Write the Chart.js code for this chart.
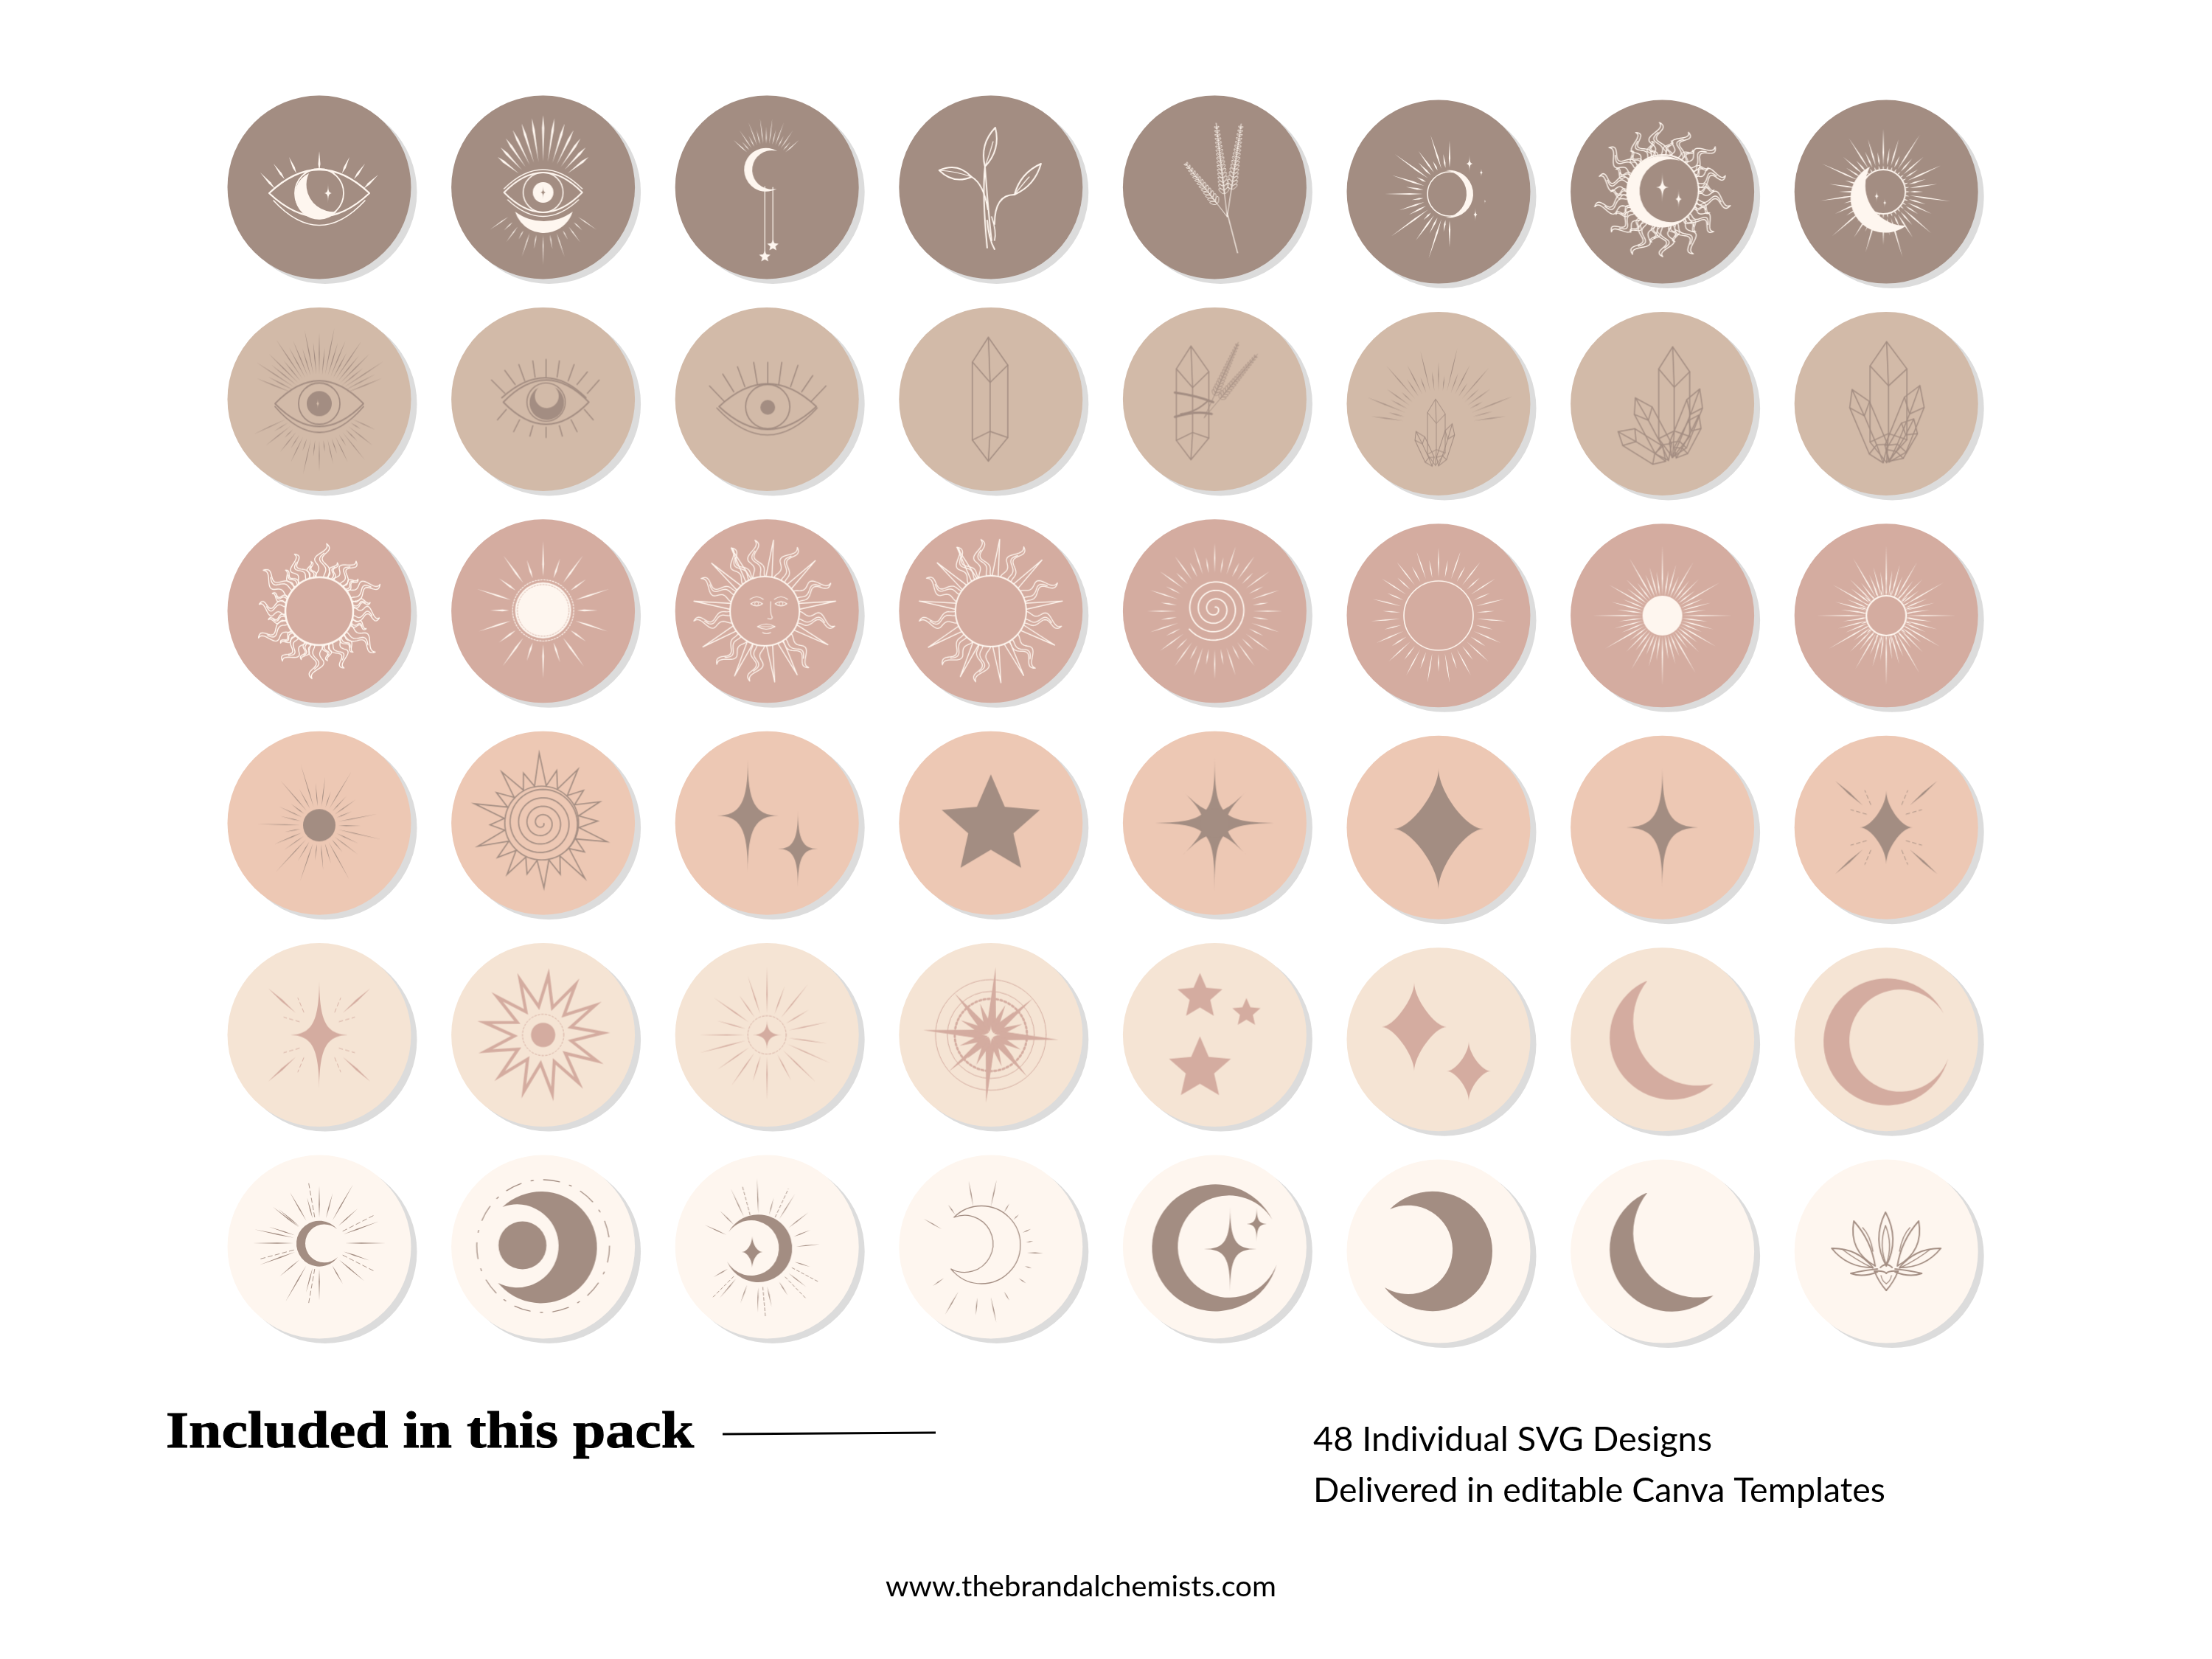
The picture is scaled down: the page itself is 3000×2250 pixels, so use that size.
<!DOCTYPE html>
<html><head><meta charset="utf-8"><style>html,body{margin:0;padding:0;background:#fff}canvas{display:block}</style>
<script src="https://cdn.jsdelivr.net/npm/chart.js@4/dist/chart.umd.min.js"></script></head>
<body><canvas id="c" width="3000" height="2250"></canvas>
<script>
// ---------- data ----------
const columns=[1,2,3,4,5,6,7,8];
const rows=[1,2,3,4,5,6];
const columnDrop=[0,0,0,0,0,0.021,0.021,0.021];
const discColors=['#a38d82','#d2baa8','#d4aca0','#edc8b4','#f5e4d4','#fef6ef'];
const iconColors=['#fef6ef','#a38d82','#fef6ef','#a38d82','#d4aca0','#a38d82'];
const iconNames=[
 'eyeMoon','eyeCrown','moonDrops','sprig','lavender','moonRays','sunMoon','moonRing',
 'eyeRays','eyeCrescent','eyePupil','crystal','crystalSage','crystalRays','clusterA','clusterB',
 'flameSun','discSun','faceSun','mixedSun','spiralSun','ringSun','fineDisc','fineRing',
 'dotRays','spiralSpikes','twoSparkles','bigStar','eightPoint','fatSparkle','slimSparkle','sparkleBurst',
 'pinkBurst','jagStar','tinyBurst','compass','threeStars','twoFat','thinMoon','wideMoon',
 'ringRays','moonOrbit','moonSparkle','outlineMoon','moonStars','fullMoon','darkThinMoon','lotus'];
const headingText='Included in this pack';
const detailLines=['48 Individual SVG Designs','Delivered in editable Canva Templates'];
const footerText='www.thebrandalchemists.com';

// ---------- drawing helpers for the pictograms ----------
const TAU=Math.PI*2,rad=d=>d*Math.PI/180;
function ring(c,x,y,r,lw,dash){c.beginPath();c.arc(x,y,r,0,TAU);c.lineWidth=lw;c.setLineDash(dash||[]);c.stroke();c.setLineDash([]);}
function disc(c,x,y,r){c.beginPath();c.arc(x,y,r,0,TAU);c.fill();}
function ln(c,x1,y1,x2,y2,lw){c.beginPath();c.moveTo(x1,y1);c.lineTo(x2,y2);c.lineWidth=lw;c.stroke();}
function taper(c,x1,y1,x2,y2,w,peak=.35){const dx=x2-x1,dy=y2-y1,l=Math.hypot(dx,dy)||1,nx=-dy/l*w/2,ny=dx/l*w/2,mx=x1+dx*peak,my=y1+dy*peak;
 c.beginPath();c.moveTo(x1,y1);c.lineTo(mx+nx,my+ny);c.lineTo(x2,y2);c.lineTo(mx-nx,my-ny);c.closePath();c.fill();}
function ray(c,cx,cy,deg,r0,r1,w,peak){const a=rad(deg),u=Math.cos(a),v=Math.sin(a);taper(c,cx+u*r0,cy+v*r0,cx+u*r1,cy+v*r1,w,peak);}
function rays(c,cx,cy,n,r0,lens,w,a0=-90,peak){for(let i=0;i<n;i++)ray(c,cx,cy,a0+360*i/n,r0,lens[i%lens.length],w,peak);}
function fan(c,cx,cy,from,to,n,r0,lens,w,peak){for(let i=0;i<n;i++)ray(c,cx,cy,from+(to-from)*i/(n-1),r0,lens[i%lens.length],w,peak);}
function dashRay(c,cx,cy,deg,r0,r1,lw,dash=[5,4]){const a=rad(deg),u=Math.cos(a),v=Math.sin(a);c.setLineDash(dash);ln(c,cx+u*r0,cy+v*r0,cx+u*r1,cy+v*r1,lw);c.setLineDash([]);}
function sparkle(c,x,y,rx,ry,q=.15,rot=0){c.save();c.translate(x,y);c.rotate(rad(rot));c.beginPath();c.moveTo(0,-ry);
 c.bezierCurveTo(0,-ry*q,rx*q,0,rx,0);c.bezierCurveTo(rx*q,0,0,ry*q,0,ry);c.bezierCurveTo(0,ry*q,-rx*q,0,-rx,0);c.bezierCurveTo(-rx*q,0,0,-ry*q,0,-ry);c.fill();c.restore();}
function star5(c,x,y,R,inner=.46,rot=0){c.beginPath();for(let i=0;i<10;i++){const r=i%2?R*inner:R,a=rad(-90+rot+36*i);c.lineTo(x+r*Math.cos(a),y+r*Math.sin(a));}c.closePath();c.fill();}
function circ3(p,q,r){const ax=p[0],ay=p[1],bx=q[0],by=q[1],cx=r[0],cy=r[1],d=2*(ax*(by-cy)+bx*(cy-ay)+cx*(ay-by)),a2=ax*ax+ay*ay,b2=bx*bx+by*by,c2=cx*cx+cy*cy;
 const ux=(a2*(by-cy)+b2*(cy-ay)+c2*(ay-by))/d,uy=(a2*(cx-bx)+b2*(ax-cx)+c2*(bx-ax))/d;return[ux,uy,Math.hypot(ax-ux,ay-uy)];}
function arc3(c,p,m,q){const[ux,uy,r]=circ3(p,m,q),ap=Math.atan2(p[1]-uy,p[0]-ux),am=Math.atan2(m[1]-uy,m[0]-ux),aq=Math.atan2(q[1]-uy,q[0]-ux);
 const norm=v=>((v%TAU)+TAU)%TAU;c.arc(ux,uy,r,ap,aq,norm(am-ap)>norm(aq-ap));}
function crescent(c,t1,mo,t2,mi,strokeOnly){c.beginPath();arc3(c,t1,mo,t2);arc3(c,t2,mi,t1);c.closePath();strokeOnly?c.stroke():c.fill();}
function almond(c,x,y,hw,hh,lw){c.beginPath();c.moveTo(x-hw,y);c.quadraticCurveTo(x,y-2*hh,x+hw,y);c.quadraticCurveTo(x,y+2*hh,x-hw,y);c.closePath();c.lineWidth=lw;c.stroke();}
function curve(c,x1,y1,cx,cy,x2,y2,lw){c.beginPath();c.moveTo(x1,y1);c.quadraticCurveTo(cx,cy,x2,y2);c.lineWidth=lw;c.stroke();}
function flame(c,cx,cy,deg,r0,r1,bw,amp,lw,waves=1.4){const a=rad(deg),ux=Math.cos(a),uy=Math.sin(a),vx=-uy,vy=ux,N=28;
 const at=(t,s)=>{const r=r0+(r1-r0)*t,o=amp*Math.sin(t*TAU*waves)*Math.min(1,t*2.2)+s*bw*Math.pow(1-t,.75);return[cx+ux*r+vx*o,cy+uy*r+vy*o];};
 c.lineWidth=lw;c.beginPath();for(let i=0;i<=N;i++)c.lineTo(...at(i/N,1));for(let i=N;i>=0;i--)c.lineTo(...at(i/N,-1));c.stroke();
 c.beginPath();for(let i=0;i<=N*.72;i++)c.lineTo(...at(i/N,.3));c.stroke();}
function spike(c,cx,cy,deg,r0,r1,hw,lw){const a=rad(deg),b=rad(deg-hw),d=rad(deg+hw);c.lineWidth=lw;c.beginPath();c.moveTo(cx+r0*Math.cos(b),cy+r0*Math.sin(b));c.lineTo(cx+r1*Math.cos(a),cy+r1*Math.sin(a));c.lineTo(cx+r0*Math.cos(d),cy+r0*Math.sin(d));c.stroke();}
function polyStar(c,cx,cy,n,outs,rI,lw,a0=-90){c.beginPath();for(let i=0;i<n;i++){const a=rad(a0+360*i/n),b=rad(a0+360*(i+.5)/n),r=outs[i%outs.length];c.lineTo(cx+r*Math.cos(a),cy+r*Math.sin(a));c.lineTo(cx+rI*Math.cos(b),cy+rI*Math.sin(b));}c.closePath();c.lineWidth=lw;c.lineJoin='miter';c.stroke();c.lineJoin='round';}
function spiral(c,cx,cy,R,turns,lw,a0=0){c.lineWidth=lw;c.beginPath();for(let i=0;i<=240;i++){const t=i/240,r=R*(.06+.94*t),a=a0+turns*TAU*t;c.lineTo(cx+r*Math.cos(a),cy+r*Math.sin(a));}c.stroke();}
function lavender(c,bx,by,tx,ty,frac,lw,size=1){const dx=tx-bx,dy=ty-by,l=Math.hypot(dx,dy),ang=Math.atan2(dy,dx);ln(c,bx,by,tx,ty,lw);c.lineWidth=lw*.8;
 for(let s=(1-frac)*l;s<l-2;s+=6.5*size){const k=(l-s)/(frac*l),len=(3.5+6*Math.min(1,k))*size,x=bx+dx*s/l,y=by+dy*s/l;
  [-.75,.75].forEach(o=>{const e=ang+o;c.beginPath();c.ellipse(x+Math.cos(e)*len*.6,y+Math.sin(e)*len*.6,len*.6,len*.26,e,0,TAU);c.stroke();});}}
function crystal(c,x,y,w,h,rot,lw){c.save();c.translate(x,y);c.rotate(rad(rot));c.lineWidth=lw;const P=(a,b)=>[a*w,b*h];
 const path=(pts,close)=>{c.beginPath();pts.forEach(p=>c.lineTo(...P(p[0],p[1])));if(close)c.closePath();c.stroke();};
 path([[-.1,-1],[-1,-.6],[-1,.66],[-.1,1],[1,.62],[1,-.55]],true);
 path([[-1,-.6],[0,-.27],[1,-.55]]);path([[-.1,-1],[0,-.27],[0,.52],[-.1,1]]);path([[-1,.66],[0,.52],[1,.62]]);c.restore();}
function petal(c,x0,y0,xt,yt,w1,w2,lw){const dx=xt-x0,dy=yt-y0,l=Math.hypot(dx,dy),nx=-dy/l,ny=dx/l,mx=x0+dx*.5,my=y0+dy*.5;c.lineWidth=lw;c.beginPath();c.moveTo(x0,y0);
 c.quadraticCurveTo(mx+nx*w1,my+ny*w1,xt,yt);c.quadraticCurveTo(mx-nx*w2,my-ny*w2,x0,y0);c.stroke();}
function burstDashes(c,cx,cy,s){[[-1,-1],[1,-1],[-1,1],[1,1]].forEach(([a,b])=>{
 taper(c,cx+a*32*s,cy+b*30*s,cx+a*69*s,cy+b*63*s,2.8,.5);
 c.setLineDash([5,4]);ln(c,cx+a*21*s,cy+b*31*s,cx+a*29*s,cy+b*50*s,.9);ln(c,cx+a*27*s,cy+b*18*s,cx+a*48*s,cy+b*24*s,.9);c.setLineDash([]);});}
function mixedSun(c,cx,cy,r,lw){const big=[-100,-65,-25,10,50,100,130,170,205,240];
 big.forEach(d=>flame(c,cx,cy,d,r,r+50,8,6,1.3));
 [-118,-83,-45,-8,28,63,82,115,150,188,222].forEach(d=>spike(c,cx,cy,d,r,r+50,5,1.4));
 ring(c,cx,cy,r,lw);}
function fineBurst(c,cx,cy,r0,s){rays(c,cx,cy,48,r0,[95,62,72,58,84,60,70,56,90,60,68,60].map(v=>v*s),1.7);}

const I={
 eyeMoon(c){almond(c,0,8,68,32,2.2);ring(c,0,8,33,1.8);crescent(c,[-14,-19],[-33,14],[24,33],[-13,14]);sparkle(c,12,8,7,14);curve(c,-62,18,0,85,62,18,1.6);
  [[-80,-20,-60,2],[-62,-32,-47,-11],[-41,-41,-31,-19],[0,-49,0,-22],[41,-41,31,-19],[62,-32,47,-11],[80,-17,60,2]].forEach(l=>taper(c,l[2],l[3],l[0],l[1],3));},
 eyeCrown(c){almond(c,0,7,53,27,2);curve(c,-53,2,0,-50,53,2,1.5);ring(c,0,7,27,1.6);disc(c,0,7,14);c.save();c.fillStyle='#a38d82';sparkle(c,0,7,5,10);c.restore();
  crescent(c,[-38,33],[0,62],[40,33],[0,46]);curve(c,-48,17,0,62,48,17,1.4);
  fan(c,0,7,-142,-38,13,42,[78,84,89,94,98,102,105,102,98,94,89,84,78],3.2,.72);fan(c,0,7,35,145,13,58,[88,74,84,72,92,78,98,78,92,72,84,74,88],1.3);},
 moonDrops(c){crescent(c,[14,-49],[-31,-24],[13,2],[-20,-24]);fan(c,-1,-24,-138,-42,15,35,[60,50,64,52,68,56,70,58,70,56,68,52,64,50,60],1.1);
  ln(c,-3,-1,-3,88,1.2);ln(c,8,0,8,76,1.2);star5(c,-3,94,8);star5(c,8,79,8);},
 sprig(c){petal(c,-8,-28,6,-81,15,15,2);curve(c,-8,-28,0,-50,3,-62,1.2);curve(c,-8,-28,-3,40,1,72,2);curve(c,-8,-28,-12,10,-5,82,2);
  petal(c,-26,-14,-70,-23,16,15,2);curve(c,-70,-23,-48,-22,-26,-14,1.2);curve(c,-26,-14,-10,-5,-4,30,2);
  petal(c,32,10,68,-32,13,13,2);curve(c,5,50,5,10,32,10,2);curve(c,32,10,48,-10,52,-14,1.2);curve(c,-5,45,-3,70,5,84,2);curve(c,1,40,8,60,5,72,1.6);},
 lavender(c){ln(c,31,89,17,35,1.2);lavender(c,17,40,2,-87,.75,1,.85);lavender(c,17,40,36,-86,.7,1,.85);lavender(c,17,40,-39,-32,.75,1,.85);},
 moonRays(c){fan(c,15,3,90,270,21,36,[72,52,92,60,78,50,98,62,72,52,88,60,82,50,92,60,72,50,84,55,72],2.2);
  ring(c,15,3,30,1.6);crescent(c,[10,-29],[47,3],[10,35],[38,3]);sparkle(c,42,-38,6,13);sparkle(c,58,-26,3,7);sparkle(c,50,31,4,10);sparkle(c,63,13,1.5,4);},
 sunMoon(c){for(let d=-95,i=0;d<265;d+=26,i++)flame(c,0,0,d,47,i%2?88:94,9,7,1.4);
  [-82,-56,-30,-4,22,48,74,100,126,152,178,204,230,256].forEach(d=>flame(c,0,0,d,47,70,5,4,1.2));
  c.save();c.fillStyle='#a38d82';disc(c,0,-2,48);c.restore();crescent(c,[24,-42],[-49,-2],[32,36],[-31,-2]);ring(c,1,-2,48,2);sparkle(c,0,-6,10,23);sparkle(c,22,10,6,15);},
 moonRing(c){rays(c,-4,0,44,36,[86,60,74,54,92,60,72,56],2);ring(c,-4,0,30,2);rays(c,-4,0,36,30,[36],1.4);crescent(c,[-22,-34],[-48,15],[27,46],[-22,17]);
  sparkle(c,-13,6,4,9);sparkle(c,-2,15,3,7);},
 eyeRays(c){fan(c,0,6,-158,-22,25,40,[92,78,102,84,96,76,104,86],1.3,.5);fan(c,0,6,25,155,21,50,[84,66,92,72,98,68,88,72],1.1,.5);
  c.save();c.fillStyle='#d2baa8';disc(c,0,6,28);c.restore();almond(c,0,6,60,31,1.8);ring(c,0,6,28,1.8);disc(c,0,6,17);c.save();c.fillStyle='#d2baa8';sparkle(c,-2,6,3.5,9);c.restore();curve(c,-60,10,0,80,60,10,1.8);},
 eyeCrescent(c){almond(c,4,4,58,30,1.9);ring(c,4,4,26,1.6);crescent(c,[-6,-16],[4,28],[16,-16],[4,12]);curve(c,-56,-2,4,-56,58,-2,1.9);
  [[-70,-26,-52,-8],[-52,-39,-38,-20],[-33,-47,-25,-25],[-14,-52,-11,-30],[4,-54,4,-30],[22,-52,19,-30],[42,-47,34,-25],[60,-37,46,-20],[76,-26,60,-8]].forEach(l=>ln(c,...l,1.6));
  [[-62,28,-50,14],[-40,44,-32,28],[-18,50,-14,36],[4,52,4,38],[26,50,22,36],[46,44,38,28],[68,28,56,14]].forEach(l=>ln(c,...l,1.6));},
 eyePupil(c){almond(c,1,10,66,31,1.9);ring(c,1,10,30,1.8);disc(c,1,11,10);curve(c,-68,12,1,85,68,12,1.7);
  [[-78,-18,-58,3],[-60,-34,-45,-10],[-40,-44,-30,-17],[-18,-50,-13,-20],[1,-50,1,-21],[20,-50,16,-20],[42,-46,32,-17],[62,-32,47,-10],[80,-18,60,3]].forEach(l=>ln(c,...l,1.6));},
 crystal(c){crystal(c,-1,0,24,84,0,1.5);},
 crystalSage(c){lavender(c,-14,25,32,-77,.7,.9,.7);lavender(c,-14,25,58,-61,.7,.9,.7);crystal(c,-30,5,22,77,0,1.4);
  curve(c,-54,-9,-25,-5,-2,4,3);curve(c,-54,24,-25,15,-4,20,3);curve(c,-46,20,-25,18,-8,1,2);},
 crystalRays(c){fan(c,0,30,-172,-8,25,48,[92,70,104,74,86,68,108,76],1.2,.55);crystal(c,-3,39,12,45,0,1);crystal(c,-19,61,7,26,-25,1);crystal(c,10,56,7,30,18,1);},
 clusterA(c){crystal(c,-27,57,14,38,-58,1.5);crystal(c,-13,34,13,48,-28,1.5);crystal(c,33,27,12,50,22,1.5);crystal(c,35,45,10,33,28,1.5);crystal(c,16,-2,21,75,0,1.5);},
 clusterB(c){crystal(c,-24,30,14,54,-23,1.5);crystal(c,26,28,15,56,22,1.5);crystal(c,22,50,13,33,30,1.5);crystal(c,3,-2,25,82,0,1.5);},
 flameSun(c){const L=[92,70,84,68,90,70,82,68,94,72,84,68];for(let i=0;i<24;i++)flame(c,0,0,-86+i*15,46,L[i%12],i%2?5:9,i%2?3:6,1.4);ring(c,0,0,46,2.6);},
 discSun(c){disc(c,0,-1,38);ring(c,0,-1,41.5,1.2,[2,2]);c.save();c.strokeStyle='#d4aca0';ring(c,0,-1,35,.9,[2,2]);c.restore();rays(c,0,-1,20,46,[94,74,92,72],2.4);},
 faceSun(c){mixedSun(c,-3,0,47,2);const l=1.1;[-14,19].forEach(x=>{almond(c,x,-10,8,3,l);ring(c,x,-10,2.6,.8);curve(c,x-9,-16,x,-23,x+9,-16,l);});
  curve(c,5,-13,4,4,7,8,l);curve(c,7,8,8,12,1,10,l);almond(c,-1,21,12,3.5,l);ln(c,-12,21,10,21,.8);curve(c,-6,29,-1,32,5,29,l);},
 mixedSun(c){mixedSun(c,0,0,48,2);},
 spiralSun(c){spiral(c,0,-3,44,3.6,1.8,-1.3);rays(c,0,0,40,52,[92,74],1.6,-90,.5);},
 ringSun(c){ring(c,0,0,47,1.6);rays(c,0,0,38,52,[92,76],1.6,-90,.5);},
 fineDisc(c){fineBurst(c,0,0,27,1);disc(c,0,0,27);},
 fineRing(c){fineBurst(c,0,0,27,1);ring(c,0,0,27,2.2);rays(c,0,0,30,27,[40,36],1.5);},
 dotRays(c){rays(c,0,3,30,26,[86,58,66,48,84,54,60,48,80,56],1.1,-107);disc(c,0,3,22);},
 spiralSpikes(c){polyStar(c,-2,0,20,[95,74,88,72,84,76,92,70],51,1.7,-92);spiral(c,-2,0,50,4.1,1.7,.2);ring(c,-2,0,50,1.7);},
 twoSparkles(c){sparkle(c,-26,-10,42,76,.24);sparkle(c,42,35,27,52,.24);},
 bigStar(c){star5(c,0,4,70);},
 eightPoint(c){sparkle(c,0,0,96,92,.08);sparkle(c,0,0,62,62,.14,45);disc(c,0,0,20);},
 fatSparkle(c){sparkle(c,0,2,61,82,.62);},
 slimSparkle(c){sparkle(c,0,0,52,82,.22);},
 sparkleBurst(c){sparkle(c,0,0,36,50,.58);burstDashes(c,0,0,1);},
 pinkBurst(c){sparkle(c,0,0,42,78,.22);burstDashes(c,0,0,1);},
 jagStar(c){polyStar(c,0,0,13,[81],39,4.2,-85);disc(c,0,0,16.5);ring(c,0,0,28,1,[2.4,2.4]);},
 tinyBurst(c){const o=[-90,-70,-51,-31,-12,8,24,44,62,90,107,125,145,165,180,196,215,235,252];o.forEach((d,i)=>ray(c,0,0,d,30,[92,70,88,66,84,82,94][i%7],1.6,.4));ring(c,0,0,26,.9,[3,2]);sparkle(c,0,0,20,20,.3);},
 compass(c){ring(c,0,0,75,1);ring(c,0,0,59,1);ring(c,0,0,49,3,[2.6,3.2]);
  [4,94,184,274].forEach(d=>ray(c,0,0,d,3,92,11,.2));[49,139,229,319].forEach(d=>ray(c,0,0,d,3,75,9,.2));
  for(let d=26;d<360;d+=45){ray(c,0,0,d,3,45,9,.3);ray(c,0,0,d+19,3,45,9,.3);}c.save();c.fillStyle='#f5e4d4';sparkle(c,0,0,15,15,.2);c.restore();},
 threeStars(c){star5(c,-20,-52,32);star5(c,43,-30,20);star5(c,-20,46,44);},
 twoFat(c){sparkle(c,-33,-17,44,60,.64);sparkle(c,41,43,30,40,.6);},
 thinMoon(c){crescent(c,[-20,-80],[-60,40],[69,60],[-30,15]);},
 wideMoon(c){crescent(c,[78,-35],[-85,0],[84,26],[-50,-1]);},
 ringRays(c){[-168,-140,-120,-105,-90,-75,-60,-42,-20,0,19,40,60,90,105,120,140,160,180,198,218].forEach((d,i)=>ray(c,0,-5,d,35,[90,72,80,64,78,70,92,70,86][i%9],1.5,.4));
  [-100,-27,27,100,-195].forEach(d=>dashRay(c,0,-5,d,36,86,.9,[6,4]));crescent(c,[24,-24],[-31,-5],[25,14],[-19,-5]);},
 moonOrbit(c){crescent(c,[-55,-54],[73,0],[-61,49],[21,-2]);disc(c,-28,-2,32.5);ring(c,0,-1,90,1.3,[22,14,3,14]);},
 moonSparkle(c){[-155,-135,-115,-92,-75,-58,-38,-22,-6,18,38,58,78,92,110,130,150].forEach((d,i)=>ray(c,-10,5,d,50,[82,76,92,98,74,90,84,74,82,72,80,72,78,84,76,84,72][i],1.3,.4));
  [-105,-65,28,46,85,135].forEach(d=>dashRay(c,-10,5,d,50,92,.9,[4,3]));crescent(c,[-52,-20],[34,5],[-54,20],[16,-2]);sparkle(c,-20,7,14,22,.5);},
 outlineMoon(c){c.lineWidth=1.3;crescent(c,[-50,-40],[37,15],[-54,30],[3,-5],true);
  [-150,-125,-100,-78,-60,-45,-25,-12,1,18,35,60,78,95,120,145].forEach((d,i)=>ray(c,-13,7,d,62,[90,78,98,100,76,72,74,72,84,72,74,76,98,86,98,80][i],1.4,.5));},
 moonStars(c){crescent(c,[78,-37],[-85,0],[84,24],[-50,-2]);sparkle(c,21,3,36,58,.2);sparkle(c,57,-31,16,24,.2);},
 fullMoon(c){crescent(c,[-66,-57],[73,0],[-73,49],[19,-4]);},
 darkThinMoon(c){crescent(c,[-20,-80],[-60,40],[69,60],[-30,15]);},
 lotus(c){const L=1.9;[1,-1].forEach(s=>{const a=s>0?[24,10]:[10,24];petal(c,s*15,20,s*44,-41,a[0],a[1],L);petal(c,s*18,22,s*74,-4,15,15,L);curve(c,s*18,0,s*22,-22,s*32,-32,1.4);curve(c,s*18,23,s*44,10,s*60,-3,1.4);
   curve(c,s*12,28,s*32,36,s*48,30,L);curve(c,s*48,30,s*32,26,s*12,24,L);curve(c,s*16,27,s*10,42,0,53,L);curve(c,s*16,27,s*3,26,0,30,L);curve(c,s*7,33,s*6,40,0,44,1.3);});
  petal(c,0,20,-1,-53,19,19,L);petal(c,0,18,-1,-35,10,10,1.5);curve(c,-8,22,0,14,8,22,L);}
};
function makeIcon(name,color){const cv=document.createElement('canvas');cv.width=cv.height=280;const c=cv.getContext('2d');c.translate(140,140);c.fillStyle=color;c.strokeStyle=color;c.lineCap='round';c.lineJoin='round';I[name](c);return cv;}

// ---------- datasets built from the small arrays ----------
const SHADOW_X=8/303.6,SHADOW_Y=6.5/287.4;
const cells=[];rows.forEach((r,ri)=>columns.forEach((col,ci)=>cells.push({x:col,y:r+columnDrop[ci],ri,name:iconNames[ri*8+ci]})));
const discs=cells.map(k=>({x:k.x,y:k.y}));
const shadows=cells.map(k=>({x:k.x+SHADOW_X,y:k.y+SHADOW_Y}));
const fills=cells.map(k=>discColors[k.ri]);
const glyphs=cells.map(k=>makeIcon(k.name,iconColors[k.ri]));

const textPlugin={id:'pageText',afterDraw(ch){const c=ch.ctx;c.save();c.fillStyle='#000';c.strokeStyle='#000';c.textBaseline='alphabetic';
 const put=(t,x,b,font,w,bold)=>{c.save();c.font=font;const m=c.measureText(t).width;c.translate(x,b);c.scale(w/m,1);c.fillText(t,0,0);if(bold){c.lineWidth=bold;c.strokeText(t,0,0);}c.restore();};
 put(headingText,225,1963,'bold 70px "Liberation Serif"',716,1);
 put(detailLines[0],1781,1968,'400 47px Lato',541);
 put(detailLines[1],1781,2037,'400 47px Lato',776);
 put(footerText,1201,2165,'400 39px Lato',530);
 c.lineWidth=3.2;c.beginPath();c.moveTo(980,1945);c.lineTo(1269,1943);c.stroke();c.restore();}};

new Chart(document.getElementById('c'),{type:'scatter',
 data:{datasets:[
  {label:'shadow',data:shadows,pointRadius:124.5,pointHoverRadius:124.5,pointBackgroundColor:'#dcdcdc',pointBorderWidth:0,order:3,clip:false},
  {label:'disc',data:discs,pointRadius:124.5,pointHoverRadius:124.5,pointBackgroundColor:fills,pointBorderWidth:0,order:2,clip:false},
  {label:'icon',data:discs,pointRadius:124,pointStyle:glyphs,order:1,clip:false}]},
 plugins:[textPlugin],
 options:{responsive:false,animation:false,devicePixelRatio:1,layout:{padding:0,autoPadding:false},
  plugins:{legend:{display:false},tooltip:{enabled:false},title:{display:false}},events:[],
  scales:{x:{type:'linear',display:false,min:1-433/303.6,max:1-433/303.6+3000/303.6},
          y:{type:'linear',display:false,reverse:true,min:1-254/287.4,max:1-254/287.4+2250/287.4}}}});
</script></body></html>
